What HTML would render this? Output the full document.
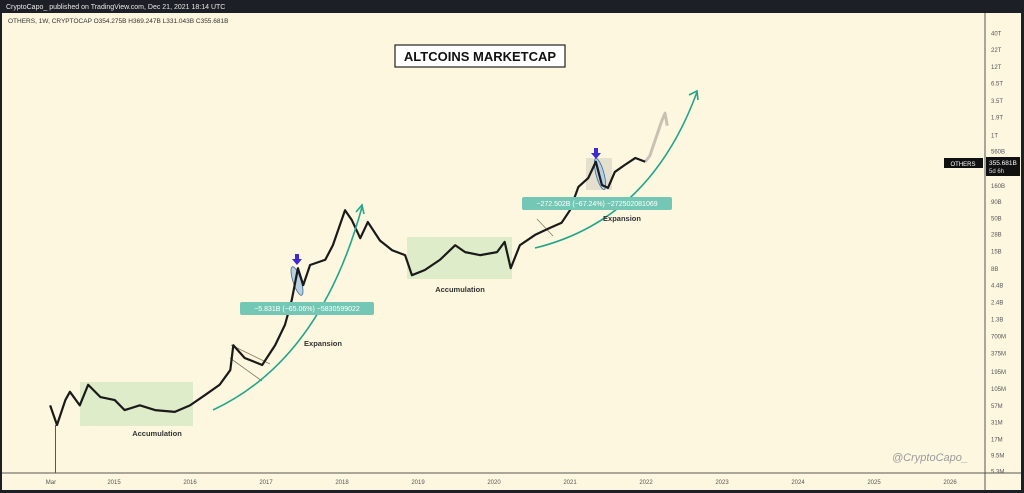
<!DOCTYPE html>
<html><head><meta charset="utf-8"><style>
html,body{margin:0;padding:0;width:1024px;height:493px;overflow:hidden;background:#1c1f26;font-family:"Liberation Sans",sans-serif}
svg{display:block}
</style></head><body>
<svg id="c" width="1024" height="493" xmlns="http://www.w3.org/2000/svg">
<rect x="0" y="0" width="1024" height="493" fill="#1c1f26"/>
<text x="6" y="9" font-size="7" fill="#e8e8e8">CryptoCapo_ published on TradingView.com, Dec 21, 2021 18:14 UTC</text>
<rect x="2" y="13" width="1019" height="477" fill="#fdf7e0"/>
<line x1="985" y1="13" x2="985" y2="490" stroke="#555" stroke-width="1"/>
<line x1="2" y1="473" x2="1021" y2="473" stroke="#555" stroke-width="1"/>
<text x="8" y="23" font-size="6.5" fill="#333">OTHERS, 1W, CRYPTOCAP  O354.275B  H369.247B  L331.043B  C355.681B</text>
<g id="yax"></g>
<g id="xax"></g>
<rect x="80" y="382" width="113" height="44" fill="#d7e8c4" opacity="0.8"/>
<rect x="407" y="237" width="105" height="42" fill="#d7e8c4" opacity="0.8"/>
<rect x="586" y="158" width="26" height="32" fill="#ddd9c8" opacity="0.8"/>
<ellipse cx="297" cy="281" rx="4" ry="15" transform="rotate(-18 297 281)" fill="#b8d0e0" stroke="#3a6a9a" stroke-width="0.8"/>
<ellipse cx="600" cy="174" rx="4" ry="16" transform="rotate(-15 600 174)" fill="#b8d0e0" stroke="#3a6a9a" stroke-width="0.8"/>
<line x1="231" y1="345" x2="270" y2="364" stroke="#8a7a5a" stroke-width="0.8"/>
<line x1="230" y1="358" x2="262" y2="381" stroke="#8a7a5a" stroke-width="0.8"/>
<line x1="537" y1="219" x2="553" y2="236" stroke="#8a7a5a" stroke-width="0.8"/>
<g id="series"></g>
<path d="M213 410 Q320 360 362 207" fill="none" stroke="#22a68a" stroke-width="1.6"/>
<path d="M356 212 L362 205 L364 214" fill="none" stroke="#22a68a" stroke-width="1.6"/>
<path d="M535 248 Q650 220 697 92" fill="none" stroke="#22a68a" stroke-width="1.6"/>
<path d="M689 95 L697 91 L698 100" fill="none" stroke="#22a68a" stroke-width="1.6"/>
<path d="M295 254 h4 v5 h3 l-5 6 l-5 -6 h3z" fill="#3b2ad6"/>
<path d="M594 148 h4 v5 h3 l-5 6 l-5 -6 h3z" fill="#3b2ad6"/>
<rect x="395" y="45" width="170" height="22" fill="#fff" stroke="#222" stroke-width="1.2"/>
<text x="480" y="61" font-size="13" font-weight="bold" fill="#111" text-anchor="middle">ALTCOINS MARKETCAP</text>
<text x="157" y="436" font-size="7.5" font-weight="bold" fill="#333" text-anchor="middle">Accumulation</text>
<text x="460" y="292" font-size="7.5" font-weight="bold" fill="#333" text-anchor="middle">Accumulation</text>
<text x="323" y="346" font-size="7.5" font-weight="bold" fill="#333" text-anchor="middle">Expansion</text>
<text x="622" y="221" font-size="7.5" font-weight="bold" fill="#333" text-anchor="middle">Expansion</text>
<rect x="240" y="302" width="134" height="13" rx="2" fill="#74c7b4"/>
<text x="307" y="311" font-size="7" fill="#fff" text-anchor="middle">−5.831B (−65.06%) −5830599022</text>
<rect x="522" y="197" width="150" height="13" rx="2" fill="#74c7b4"/>
<text x="597" y="206" font-size="7" fill="#fff" text-anchor="middle">−272.502B (−67.24%) −272502081069</text>
<rect x="944" y="158" width="39" height="10" fill="#111"/>
<text x="963" y="166" font-size="6" fill="#fff" text-anchor="middle">OTHERS</text>
<rect x="986" y="157" width="34" height="19" fill="#111"/>
<text x="989" y="165" font-size="6.5" fill="#fff">355.681B</text>
<text x="989" y="173" font-size="6" fill="#ddd">5d 6h</text>
<text x="968" y="461" font-size="11" font-style="italic" fill="#9a9a9a" text-anchor="end">@CryptoCapo_</text>
</svg>
<script>
const yTicks=[40e12,22e12,12e12,6.5e12,3.5e12,1.9e12,1e12,560e9,160e9,90e9,50e9,28e9,15e9,8e9,4.4e9,2.4e9,1.3e9,700e6,375e6,195e6,105e6,57e6,31e6,17e6,9.5e6,5.3e6];
const yTickLabels=["40T","22T","12T","6.5T","3.5T","1.9T","1T","560B","160B","90B","50B","28B","15B","8B","4.4B","2.4B","1.3B","700M","375M","195M","105M","57M","31M","17M","9.5M","5.3M"];
const xTicks=[2014.17,2015,2016,2017,2018,2019,2020,2021,2022,2023,2024,2025,2026];
const xTickLabels=["Mar","2015","2016","2017","2018","2019","2020","2021","2022","2023","2024","2025","2026"];
const dates=[2014.16,2014.25,2014.36,2014.42,2014.55,2014.66,2014.82,2015.01,2015.14,2015.34,2015.54,2015.80,2016.0,2016.20,2016.39,2016.53,2016.57,2016.72,2016.95,2017.12,2017.25,2017.34,2017.42,2017.49,2017.58,2017.78,2017.88,2018.04,2018.13,2018.24,2018.34,2018.50,2018.66,2018.83,2018.92,2019.09,2019.29,2019.49,2019.62,2019.82,2020.04,2020.14,2020.22,2020.34,2020.54,2020.74,2020.89,2021.0,2021.11,2021.24,2021.34,2021.42,2021.50,2021.59,2021.72,2021.86,2021.99];
const values=[57e6,28e6,69e6,93e6,57e6,120e6,77e6,69e6,48e6,57e6,48e6,45e6,57e6,83e6,120e6,204e6,500e6,316e6,245e6,500e6,1.05e9,2.6e9,8.1e9,4.4e9,9.1e9,11e9,18.6e9,66e9,46e9,24e9,43e9,22e9,15.5e9,13e9,6.3e9,7.6e9,11e9,18.6e9,14.5e9,13e9,14.5e9,21e9,8.1e9,18.6e9,27e9,35e9,42e9,66e9,153e9,211e9,380e9,164e9,148e9,263e9,338e9,436e9,380e9];
const projDates=[2021.99,2022.05,2022.14,2022.21,2022.25,2022.28];
const projValues=[380e9,470e9,970e9,1.7e12,2.2e12,1.4e12];
const NS="http://www.w3.org/2000/svg";
function xS(t){return 114+(t-2015)*76;}
function yS(v){return 135-(Math.log10(v)-12)*63.7;}
const yax=document.getElementById('yax'),xax=document.getElementById('xax'),ser=document.getElementById('series');
yTicks.forEach((v,i)=>{const t=document.createElementNS(NS,'text');
t.setAttribute('x',991);t.setAttribute('y',yS(v)+2.5);t.setAttribute('font-size','6');t.setAttribute('fill','#555');t.textContent=yTickLabels[i];


yax.appendChild(t);});
xTicks.forEach((v,i)=>{const t=document.createElementNS(NS,'text');
t.setAttribute('x',xS(v));t.setAttribute('y',484);t.setAttribute('font-size','6');t.setAttribute('fill','#555');t.setAttribute('text-anchor','middle');t.textContent=xTickLabels[i];


xax.appendChild(t);});
function line(ds,vs,col,w,name){const p=document.createElementNS(NS,'polyline');
p.setAttribute('points',ds.map((d,i)=>xS(d)+','+yS(vs[i])).join(' '));
p.setAttribute('fill','none');p.setAttribute('stroke',col);p.setAttribute('stroke-width',w);p.setAttribute('stroke-linejoin','round');


ser.appendChild(p);}
line(projDates,projValues,'#c9c2b4',3,'projection-line');
line(dates,values,'#1a1a1a',2.2,'price-line');
const w=document.createElementNS(NS,'line');
w.setAttribute('x1',xS(2014.23));w.setAttribute('x2',xS(2014.23));w.setAttribute('y1',yS(values[1]));w.setAttribute('y2',473);w.setAttribute('stroke','#555');


ser.appendChild(w);
</script>
</body></html>
